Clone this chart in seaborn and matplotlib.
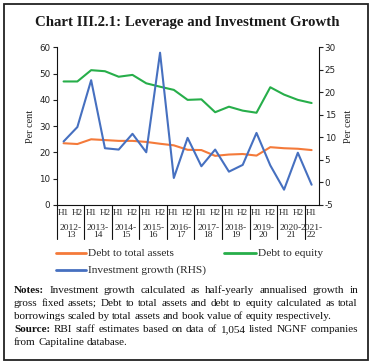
import matplotlib
matplotlib.use("Agg")
import matplotlib.pyplot as plt
import seaborn as sns
import pandas as pd
from matplotlib.lines import Line2D
from matplotlib.patches import Rectangle
from matplotlib.transforms import blended_transform_factory

# ---------------- data ----------------
years = ["2012-\n13", "2013-\n14", "2014-\n15", "2015-\n16", "2016-\n17",
         "2017-\n18", "2018-\n19", "2019-\n20", "2020-\n21", "2021-\n22"]
halves = ["H1", "H2"] * 9 + ["H1"]
debt_to_assets = [23.5, 23.2, 25.0, 24.7, 24.4, 24.4, 24.0, 23.3, 22.7, 21.0,
                  20.9, 18.7, 19.2, 19.4, 18.8, 22.0, 21.6, 21.4, 20.9]
debt_to_equity = [47.0, 47.0, 51.3, 50.9, 48.8, 49.5, 46.3, 45.0, 43.8, 40.0,
                  40.2, 35.3, 37.4, 35.9, 35.1, 44.8, 42.0, 40.0, 38.8]
investment_growth = [9.1, 12.3, 22.7, 7.6, 7.3, 10.8, 6.7, 28.8, 1.0, 9.9,
                     3.6, 7.3, 2.4, 3.9, 11.0, 3.8, -1.6, 6.6, -0.5]
series_names = ["Debt to total assets", "Debt to equity", "Investment growth (RHS)"]

C_ORANGE = "#F47A3A"
C_GREEN = "#27AE4A"
C_BLUE = "#4670C0"

sns.set_style("ticks")
plt.rcParams['font.family'] = ['Liberation Serif', 'DejaVu Serif']

W, H = 374, 364
fig = plt.figure(figsize=(W / 100, H / 100), dpi=100)
renderer = fig.canvas.get_renderer()

def fx(px):
    return px / W

def fy(py):
    return 1 - py / H

ax_l, ax_r, ax_t, ax_b = 56.7, 318.5, 47.3, 205.0
ax = fig.add_axes([fx(ax_l), fy(ax_b), fx(ax_r - ax_l), (ax_b - ax_t) / H])

df = pd.DataFrame({"idx": list(range(len(halves))),
                   "assets": debt_to_assets,
                   "equity": debt_to_equity,
                   "invest": investment_growth})

sns.lineplot(data=df, x="idx", y="assets", ax=ax, color=C_ORANGE, linewidth=1.5)
sns.lineplot(data=df, x="idx", y="equity", ax=ax, color=C_GREEN, linewidth=1.5)
ax2 = ax.twinx()
sns.lineplot(data=df, x="idx", y="invest", ax=ax2, color=C_BLUE, linewidth=1.5)

ax.set_xlim(-0.5, len(halves) - 0.5)
ax.set_ylim(0, 60)
ax2.set_ylim(-5, 30)
ax.set_yticks(range(0, 61, 10))
ax2.set_yticks(range(-5, 31, 5))

tick_font = {'family': ['DejaVu Sans'], 'size': 6.3}
ax.set_yticklabels([str(v) for v in range(0, 61, 10)], fontdict=tick_font)
ax2.set_yticklabels([str(v) for v in range(-5, 31, 5)], fontdict=tick_font)
ax.tick_params(axis='y', length=3, width=0.8, pad=1.5, colors='#222222')
ax2.tick_params(axis='y', length=3, width=0.8, pad=1.5, colors='#222222')

ax.set_xticks(range(len(halves)))
ax.set_xticklabels(halves, fontsize=6.6)
ax.tick_params(axis='x', length=0, pad=3)

ax.set_ylabel("Per cent", fontsize=7.4, labelpad=3)
ax2.set_ylabel("Per cent", fontsize=7.4, labelpad=6)
ax.set_xlabel("")

for a in (ax, ax2):
    a.spines['top'].set_visible(False)
    for s in a.spines.values():
        s.set_linewidth(0.8)
        s.set_color('#111111')
ax2.spines['left'].set_visible(False)
ax2.spines['bottom'].set_visible(False)
ax.spines['right'].set_visible(False)

# year labels and separators
trans = blended_transform_factory(ax.transData, ax.transAxes)
ah = ax_b - ax_t
sep_bottom = -(239 - ax_b) / ah
for i, yl in enumerate(years):
    center = 2 * i + 0.5 if i < len(years) - 1 else 2 * i
    ax.text(center, -(231.5 - ax_b) / ah, yl, transform=trans, ha='center', va='center',
            fontsize=6.8, linespacing=0.95)
    ax.add_line(Line2D([2 * i - 0.5, 2 * i - 0.5], [0, sep_bottom], transform=trans,
                       color='#111111', lw=0.8, clip_on=False))

# legend (manual, figure coords)
def leg(x0, x1, y, color, label):
    fig.add_artist(Line2D([fx(x0), fx(x1)], [fy(y), fy(y)], color=color, lw=2))
    fig.text(fx(x1 + 2.5), fy(y), label, fontsize=8.2, va='center', ha='left')

leg(56, 86, 253, C_ORANGE, series_names[0])
leg(224, 256, 253, C_GREEN, series_names[1])
leg(56, 86, 270, C_BLUE, series_names[2])

# title
fig.text(0.5, fy(26), "Chart III.2.1: Leverage and Investment Growth", ha='center', va='baseline',
         fontsize=10.7, fontweight='bold', color='#1a1a1a')

# notes (justified)
note_lines = [
    ([("Notes:", True), ("Investment growth calculated as half-yearly annualised growth in", False)], 293, True),
    ([("gross fixed assets; Debt to total assets and debt to equity calculated as total", False)], 306, True),
    ([("borrowings scaled by total assets and book value of equity respectively.", False)], 319, False),
    ([("Source:", True), ("RBI staff estimates based on data of 1,054 listed NGNF companies", False)], 332, True),
    ([("from Capitaline database.", False)], 345, False),
]

# size the note font so the unjustified third line spans its reference width
probe = fig.text(0, 0, note_lines[2][0][0][0], fontsize=10)
NOTE_FS = 10 * 318.0 / probe.get_window_extent(renderer).width
probe.remove()

def note_line(parts, y, justify, x0=14, x1=358):
    words = []
    for txt, bold in parts:
        for w in txt.split(" "):
            if w:
                words.append((w, bold))
    objs = [fig.text(0, fy(y), w, fontsize=NOTE_FS, fontweight='bold' if b else 'normal',
                     va='baseline', ha='left', color='#111111') for w, b in words]
    widths = [o.get_window_extent(renderer).width for o in objs]
    sp = fig.text(0, 0, "a a", fontsize=NOTE_FS)
    sp2 = fig.text(0, 0, "aa", fontsize=NOTE_FS)
    space = sp.get_window_extent(renderer).width - sp2.get_window_extent(renderer).width
    sp.remove(); sp2.remove()
    if justify and len(words) > 1:
        gap = (x1 - x0 - sum(widths)) / (len(words) - 1)
    else:
        gap = space
    x = x0
    for o, w in zip(objs, widths):
        o.set_x(fx(x))
        x += w + gap

for parts, y, just in note_lines:
    note_line(parts, y, just)

# outer frame
fig.add_artist(Rectangle((fx(4), fy(360)), fx(364), (356) / H, fill=False,
                         edgecolor='#222222', lw=1.3, transform=fig.transFigure))

fig.savefig("out.png", dpi=100)
